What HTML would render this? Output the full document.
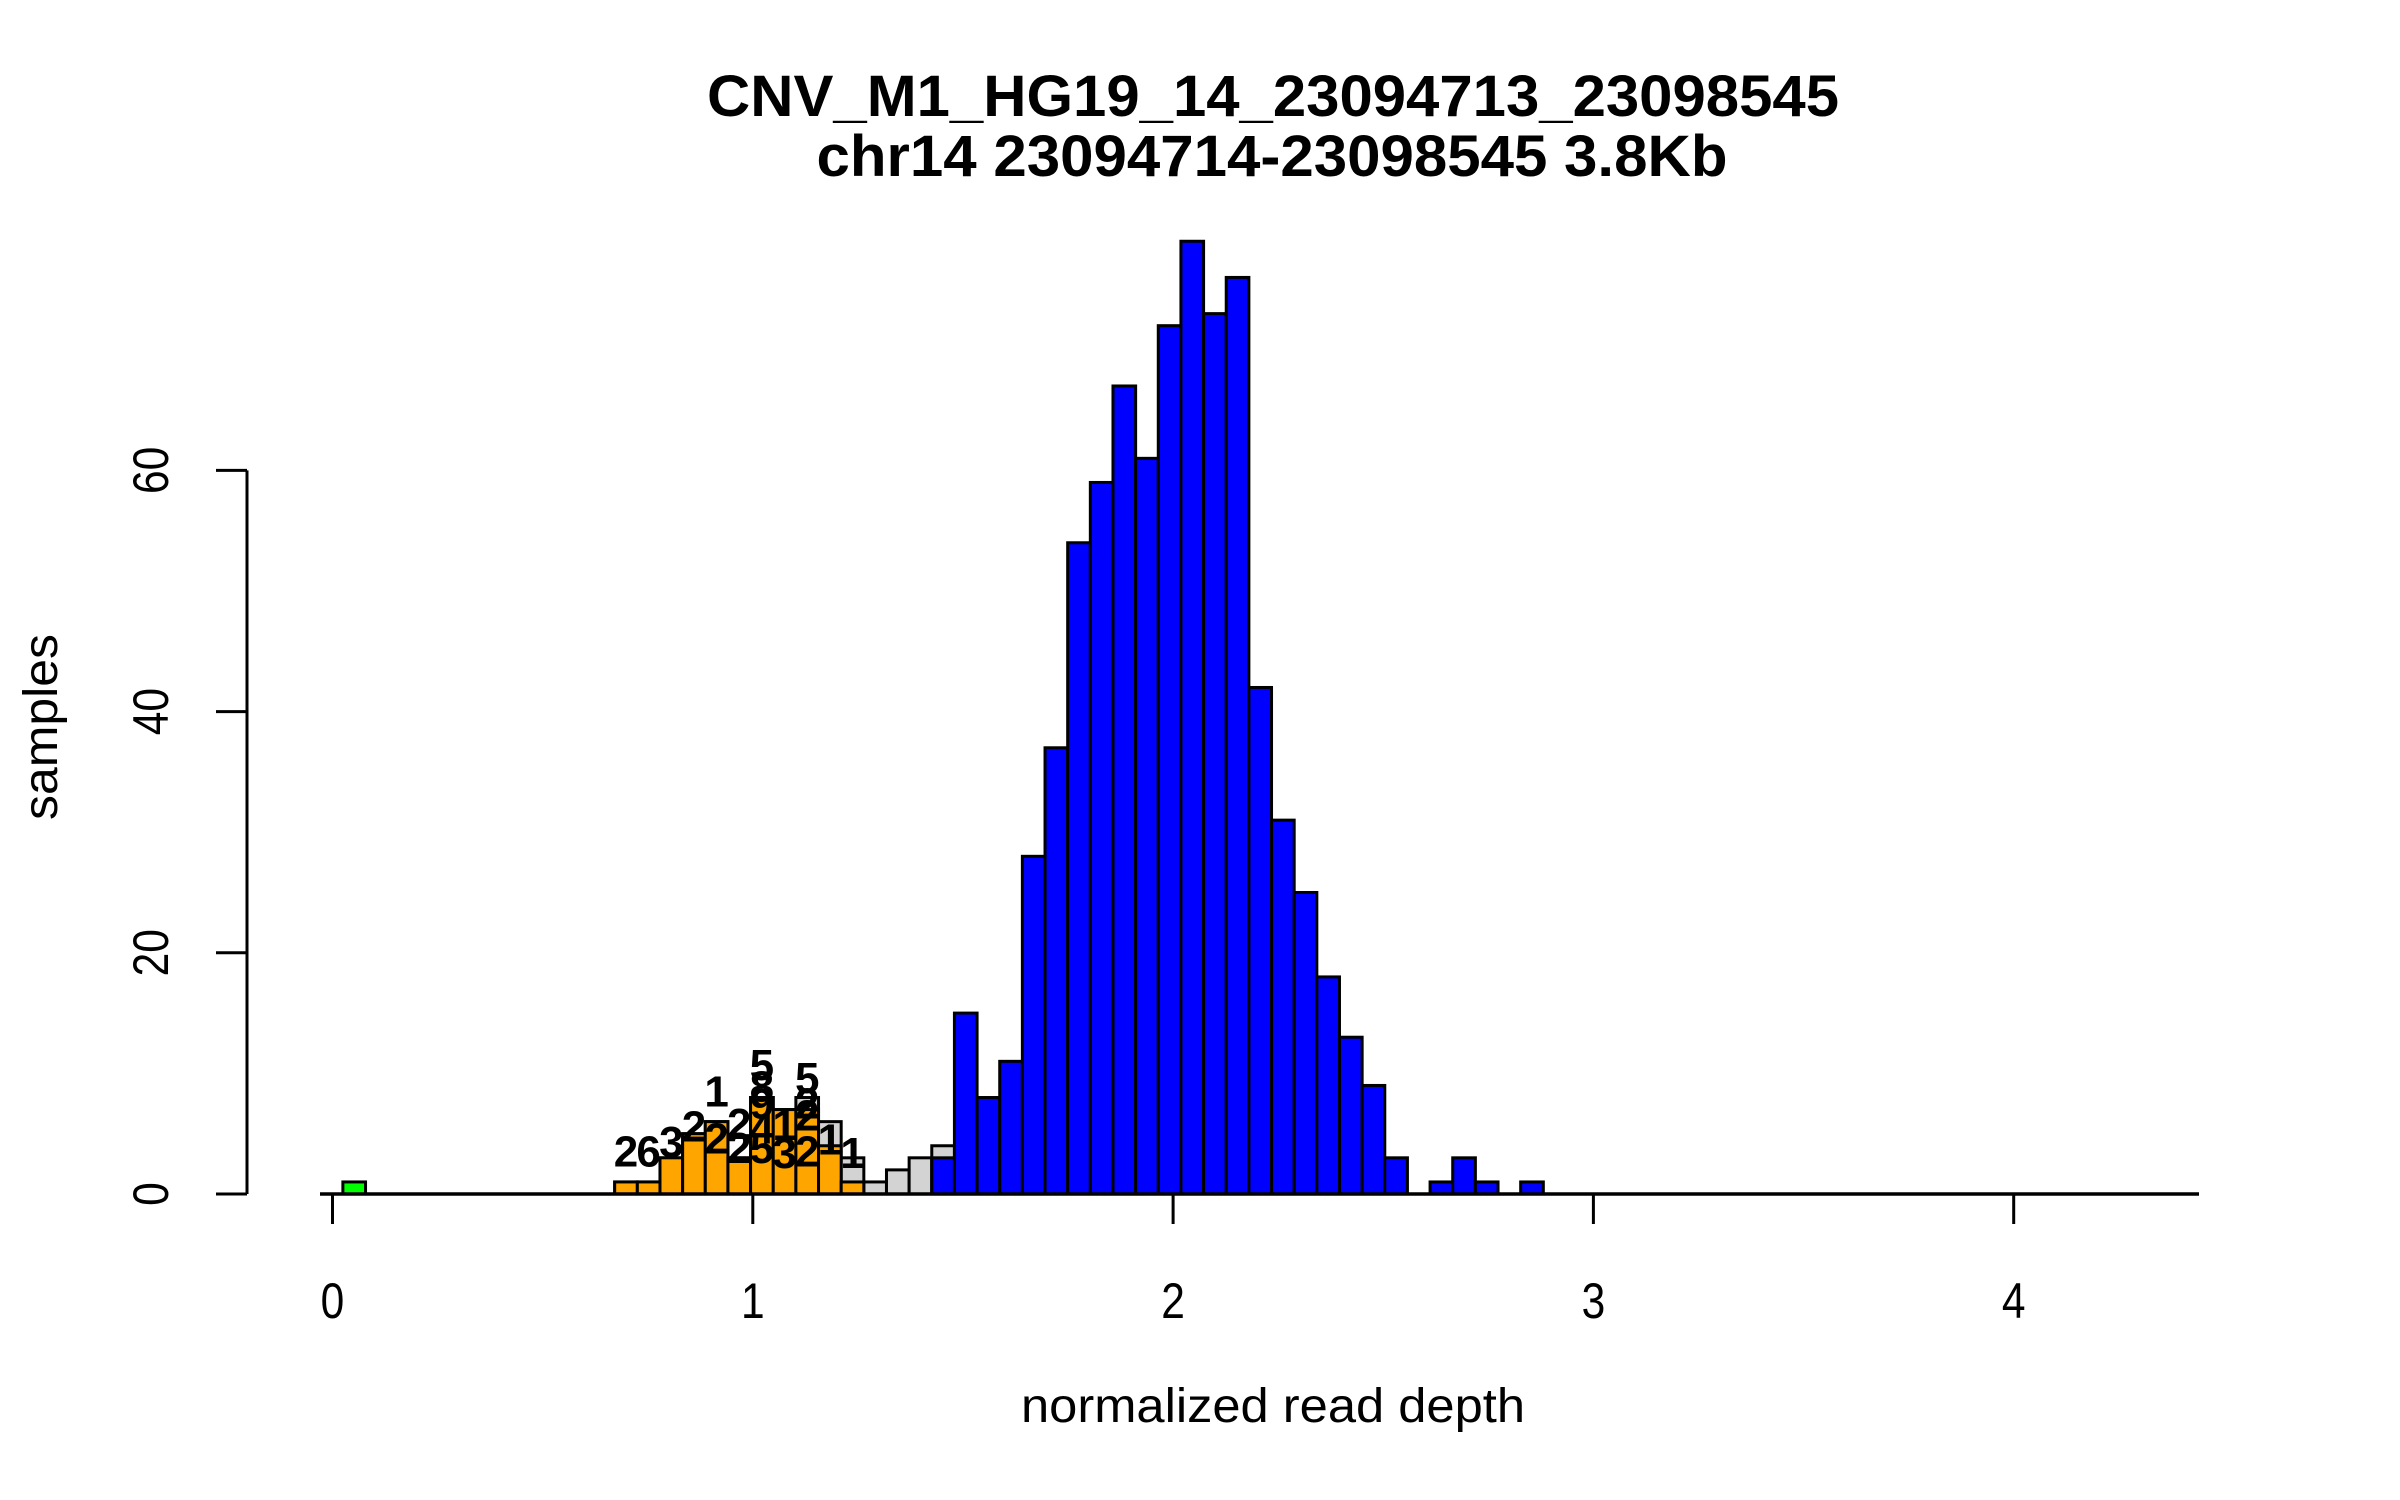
<!DOCTYPE html>
<html><head><meta charset="utf-8"><style>
html,body{margin:0;padding:0;background:#fff;}
svg{display:block;font-family:"Liberation Sans",sans-serif;}
</style></head><body>
<svg id="chart" width="2400" height="1500" viewBox="0 0 2400 1500" xmlns="http://www.w3.org/2000/svg">
<rect width="2400" height="1500" fill="#fff"/>
<text x="1273" y="116" text-anchor="middle" font-weight="bold" font-size="58" textLength="1132" lengthAdjust="spacingAndGlyphs">CNV_M1_HG19_14_23094713_23098545</text>
<text x="1272" y="176" text-anchor="middle" font-weight="bold" font-size="58" textLength="911" lengthAdjust="spacingAndGlyphs">chr14 23094714-23098545 3.8Kb</text>
<text x="1273" y="1422" text-anchor="middle" font-size="48" textLength="504" lengthAdjust="spacingAndGlyphs">normalized read depth</text>
<text transform="translate(57,727) rotate(-90)" text-anchor="middle" font-size="48" textLength="186" lengthAdjust="spacingAndGlyphs">samples</text>
<g id="bars"></g>
<g id="axes"></g>
<g id="labels"></g>
</svg>
<script>
const binStart = 0.0247;
const binWidth = 0.05389;
const grayFirst = 12;
const grayCounts = [1,1,3,5,6,3,8,7,8,6,3,1,2,3,4];
const orangeFirst = 12;
const orangeCounts = [1,1,3,5,6,3,8,7,7,4,1];
const blueFirst = 26;
const blueCounts = [3,15,8,11,28,37,54,59,67,61,72,79,73,76,42,31,25,18,13,9,3,0,1,3,1,0,1];
const greenFirst = 0;
const greenCounts = [1];
const xTicks = [0,1,2,3,4];
const yTicks = [0,20,40,60];
const labelBins = [12,13,14,15,16,16,17,17,18,18,18,18,18,19,19,20,20,20,20,21,22];
const labelLevels = [3.6,3.6,4.4,5.7,8.6,4.7,5.9,3.9,10.8,9,7.6,5.5,3.9,5.8,3.5,9.7,7.6,6.6,3.6,4.6,3.5];
const labelTexts = ["2","6","3","2","1","2","2","2","5","8","9","4","5","1","3","5","2","2","2","1","1"];

const NS = "http://www.w3.org/2000/svg";
const X0 = 332.5, XU = 420.3, Y0 = 1194, YU = 12.06;
function xs(v){ return X0 + v*XU; }
function ys(v){ return Y0 - v*YU; }
function binLeft(i){ return binStart + i*binWidth; }

const bars = document.getElementById('bars');
function drawSeries(first, counts, color, name){
  counts.forEach((c, k) => {
    if (c <= 0) return;
    const i = first + k;
    const r = document.createElementNS(NS, 'rect');
    
    
    const xa = xs(binLeft(i)), xb = xs(binLeft(i+1));
    r.setAttribute('x', xa); r.setAttribute('width', xb - xa);
    r.setAttribute('y', ys(c)); r.setAttribute('height', ys(0) - ys(c));
    r.setAttribute('fill', color); r.setAttribute('stroke', '#000'); r.setAttribute('stroke-width', '3');
    bars.appendChild(r);
  });
}
drawSeries(grayFirst, grayCounts, '#d3d3d3', 'gray');
drawSeries(orangeFirst, orangeCounts, '#ffa500', 'orange');
drawSeries(blueFirst, blueCounts, '#0000ff', 'blue');
drawSeries(greenFirst, greenCounts, '#00ff00', 'green');

const axes = document.getElementById('axes');
function line(x1,y1,x2,y2,w,name){
  const l = document.createElementNS(NS,'line');
  
  
  l.setAttribute('x1',x1); l.setAttribute('y1',y1); l.setAttribute('x2',x2); l.setAttribute('y2',y2);
  l.setAttribute('stroke','#000'); l.setAttribute('stroke-width',w);
  axes.appendChild(l);
}
function txt(parent,x,y,s,size,extra,name){
  const t = document.createElementNS(NS,'text');
  
  
  t.setAttribute('x',x); t.setAttribute('y',y);
  t.setAttribute('font-size',size); t.setAttribute('text-anchor','middle');
  if (extra) for (const k in extra) t.setAttribute(k, extra[k]);
  t.textContent = s;
  parent.appendChild(t);
}
line(320, Y0, 2199, Y0, 3.5, 'x-axis-line');
xTicks.forEach(v => {
  line(xs(v), Y0, xs(v), Y0+30, 3, 'x-tick');
  txt(axes, xs(v), 1318, String(v), 50, {transform:'translate('+xs(v)+',1318) scale(0.85,1) translate('+(-xs(v))+',-1318)'}, 'x-tick-label');
});
line(247, ys(0), 247, ys(60), 3, 'y-axis-line');
yTicks.forEach(v => {
  line(247, ys(v), 216, ys(v), 3, 'y-tick');
  txt(axes, 0, 0, String(v), 50, {transform:'translate(168,'+ys(v)+') rotate(-90) scale(0.85,1)'}, 'y-tick-label');
});

const labels = document.getElementById('labels');
labelBins.forEach((b, k) => {
  const cx = xs(binLeft(b) + binWidth/2);
  txt(labels, cx, ys(labelLevels[k]) + 16, labelTexts[k], 44, {'font-weight':'bold'}, 'bar-count-label');
});
</script>
</body></html>
